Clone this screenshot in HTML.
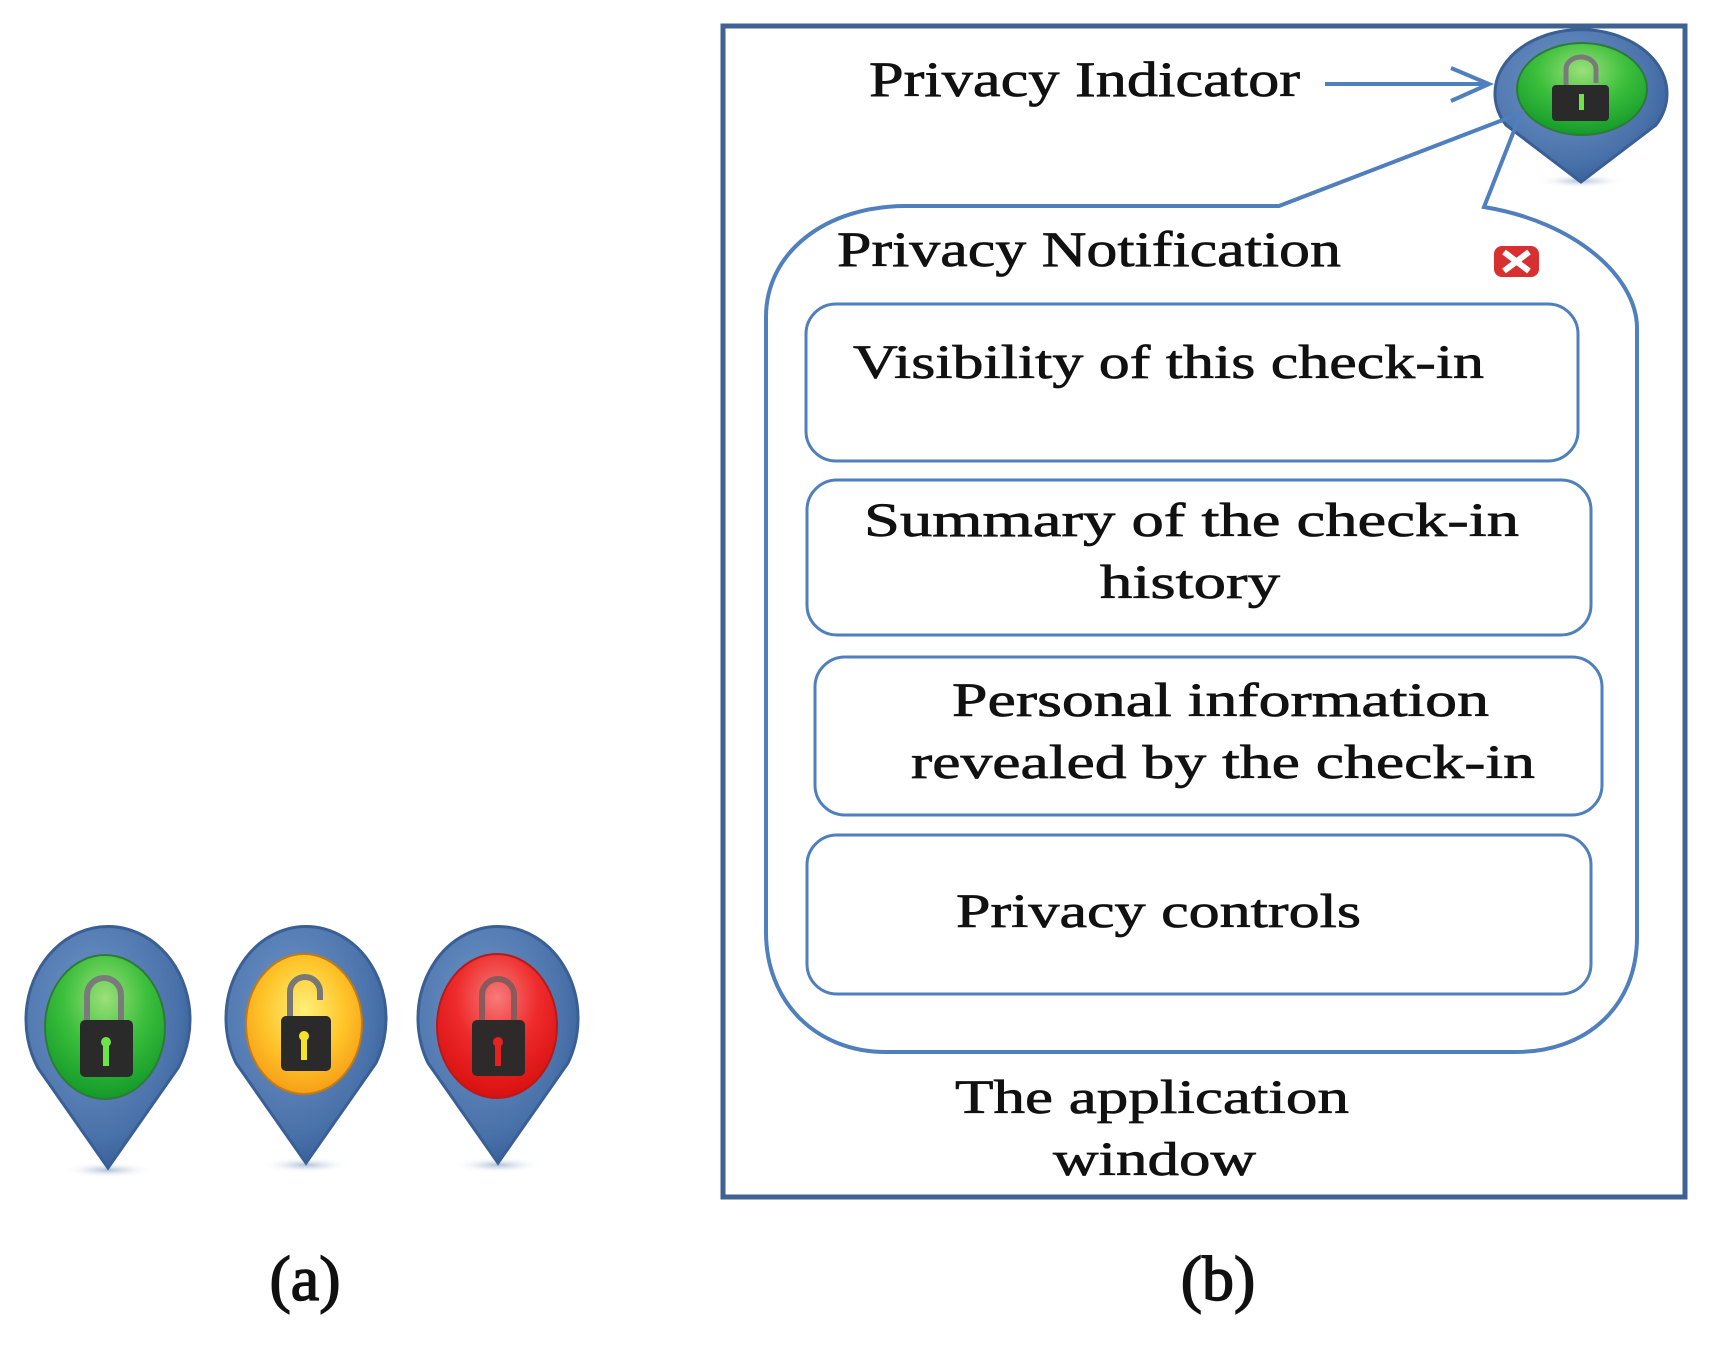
<!DOCTYPE html>
<html><head><meta charset="utf-8"><style>
html,body{margin:0;padding:0;background:#fff;}
svg{display:block;}
text{font-family:"Liberation Serif",serif;fill:#111;stroke:#111;stroke-width:0.7;}
</style></head><body>
<svg width="1709" height="1345" viewBox="0 0 1709 1345" xmlns="http://www.w3.org/2000/svg">
<defs>
<radialGradient id="pinB" cx="0.4" cy="0.35" r="0.75">
<stop offset="0" stop-color="#6f95c8"/><stop offset="0.7" stop-color="#4a72aa"/><stop offset="1" stop-color="#2f5590"/>
</radialGradient>
<radialGradient id="gG" cx="0.5" cy="0.3" r="0.7">
<stop offset="0" stop-color="#9be07a"/><stop offset="0.5" stop-color="#3cbf3c"/><stop offset="1" stop-color="#149a2a"/>
</radialGradient>
<radialGradient id="gY" cx="0.5" cy="0.4" r="0.7">
<stop offset="0" stop-color="#fff07a"/><stop offset="0.5" stop-color="#ffc52a"/><stop offset="1" stop-color="#f39010"/>
</radialGradient>
<radialGradient id="gR" cx="0.5" cy="0.3" r="0.7">
<stop offset="0" stop-color="#f77a7a"/><stop offset="0.5" stop-color="#ee2a2a"/><stop offset="1" stop-color="#d81010"/>
</radialGradient>
<radialGradient id="sh" cx="0.5" cy="0.5" r="0.5">
<stop offset="0" stop-color="#8aa3c4" stop-opacity="0.7"/><stop offset="1" stop-color="#fff" stop-opacity="0"/>
</radialGradient>
</defs>

<g>
<ellipse cx="108" cy="1170" rx="45" ry="8" fill="url(#sh)"/>
<path d="M108 1168 L38 1068 A82 93 0 1 1 178 1068 Z" fill="url(#pinB)" stroke="#3a5f95" stroke-width="3"/>
<ellipse cx="105" cy="1027" rx="60" ry="72" fill="url(#gG)" stroke="#2f7a3a" stroke-width="2"/>
<path d="M87 1020 V995 a17 17 0 0 1 34 0 V1020" fill="none" stroke="#7a7a7a" stroke-width="6"/>
<rect x="80" y="1020" width="53" height="57" rx="5" fill="#2a2a2a"/>
<rect x="103" y="1040" width="6" height="26" fill="#6ee34a"/><circle cx="106" cy="1042" r="5" fill="#6ee34a"/>
</g>
<g>
<ellipse cx="306" cy="1165" rx="45" ry="8" fill="url(#sh)"/>
<path d="M306 1163 L236 1063 A80 92 0 1 1 376 1063 Z" fill="url(#pinB)" stroke="#3a5f95" stroke-width="3"/>
<ellipse cx="304" cy="1024" rx="58" ry="70" fill="url(#gY)" stroke="#c77a10" stroke-width="2"/>
<path d="M290 1018 V992 a15 15 0 0 1 30 0 V1000" fill="none" stroke="#777" stroke-width="6"/>
<rect x="281" y="1016" width="50" height="55" rx="5" fill="#2a2a2a"/>
<rect x="301" y="1034" width="6" height="26" fill="#f5e22a"/><circle cx="304" cy="1036" r="5" fill="#f5e22a"/>
</g>
<g>
<ellipse cx="498" cy="1165" rx="45" ry="8" fill="url(#sh)"/>
<path d="M498 1163 L428 1063 A80 92 0 1 1 568 1063 Z" fill="url(#pinB)" stroke="#3a5f95" stroke-width="3"/>
<ellipse cx="497" cy="1026" rx="60" ry="72" fill="url(#gR)" stroke="#b81a1a" stroke-width="2"/>
<path d="M482 1020 V995 a16 16 0 0 1 32 0 V1020" fill="none" stroke="#8a5a5a" stroke-width="6"/>
<rect x="472" y="1020" width="53" height="56" rx="5" fill="#2e2a2a"/>
<rect x="495" y="1040" width="6" height="26" fill="#e82020"/><circle cx="498" cy="1042" r="5" fill="#e82020"/>
</g>

<text x="305" y="1300" font-size="64" text-anchor="middle" style="stroke-width:1.5">(a)</text>
<text x="1218" y="1300" font-size="64" text-anchor="middle" style="stroke-width:1.5">(b)</text>

<g transform="translate(-4,-3)">
<rect x="727" y="29" width="962" height="1171" fill="none" stroke="#3f6292" stroke-width="5"/>

<text x="873" y="99" font-size="50" textLength="431" lengthAdjust="spacingAndGlyphs">Privacy Indicator</text>
<line x1="1329" y1="87" x2="1492" y2="87" stroke="#4f7fbd" stroke-width="4"/>
<polyline points="1455,71 1493,87 1455,104" fill="none" stroke="#4f7fbd" stroke-width="4"/>

<ellipse cx="1585" cy="184" rx="45" ry="7" fill="url(#sh)"/>
<path d="M1585 185 L1510 128 A86 64 0 1 1 1660 128 Z" fill="url(#pinB)" stroke="#3a5f95" stroke-width="3"/>
<ellipse cx="1586" cy="92" rx="65" ry="46" fill="url(#gG)" stroke="#2f7a3a" stroke-width="2"/>
<path d="M1570 92 V72 a15 12 0 0 1 30 0 V86" fill="none" stroke="#7a7a7a" stroke-width="5"/>
<rect x="1556" y="88" width="57" height="36" rx="4" fill="#2a2a2a"/>
<rect x="1583" y="97" width="5" height="16" fill="#6ee34a"/>

<path d="M1283 209 L1525 116 L1488 210 C1580 225 1640 280 1641 330 L1641 940 C1641 1010 1590 1055 1520 1055 L890 1055 C820 1055 770 1005 770 935 L770 320 C770 255 830 209 910 209 Z" fill="none" stroke="#4f7fbd" stroke-width="4"/>

<text x="841" y="269" font-size="50" textLength="504" lengthAdjust="spacingAndGlyphs">Privacy Notification</text>
<rect x="1498" y="249" width="45" height="31" rx="8" fill="#d83030"/>
<path d="M1508 255 L1533 274 M1533 255 L1508 274" stroke="#fff" stroke-width="6"/>

<rect x="810" y="307" width="772" height="157" rx="30" fill="none" stroke="#4f7fbd" stroke-width="3"/>
<text x="857" y="381" font-size="48" textLength="631" lengthAdjust="spacingAndGlyphs">Visibility of this check-in</text>

<rect x="811" y="483" width="784" height="155" rx="30" fill="none" stroke="#4f7fbd" stroke-width="3"/>
<text x="868" y="539" font-size="48" textLength="655" lengthAdjust="spacingAndGlyphs">Summary of the check-in</text>
<text x="1104" y="601" font-size="48" textLength="180" lengthAdjust="spacingAndGlyphs">history</text>

<rect x="819" y="660" width="787" height="158" rx="30" fill="none" stroke="#4f7fbd" stroke-width="3"/>
<text x="956" y="719" font-size="48" textLength="537" lengthAdjust="spacingAndGlyphs">Personal information</text>
<text x="915" y="781" font-size="48" textLength="624" lengthAdjust="spacingAndGlyphs">revealed by the check-in</text>

<rect x="811" y="838" width="784" height="159" rx="30" fill="none" stroke="#4f7fbd" stroke-width="3"/>
<text x="960" y="930" font-size="48" textLength="405" lengthAdjust="spacingAndGlyphs">Privacy controls</text>

<text x="959" y="1116" font-size="48" textLength="394" lengthAdjust="spacingAndGlyphs">The application</text>
<text x="1057" y="1178" font-size="48" textLength="203" lengthAdjust="spacingAndGlyphs">window</text>
</g>
</svg>
</body></html>
